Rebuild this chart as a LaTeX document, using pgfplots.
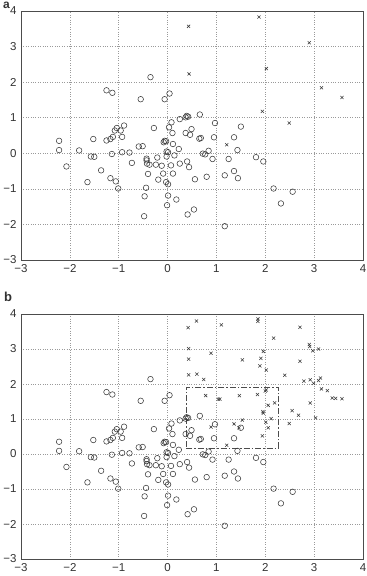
\documentclass[border=0pt]{standalone}
\usepackage{fontspec}
\setmainfont{Liberation Sans}
\usepackage{pgfplots}
\usepackage{pgfplotstable}
\pgfplotsset{compat=1.18}

% class 1 samples (drawn as circles in both panels)
\pgfplotstableread{
x y
-1.25 1.77
-1.13 1.70
-0.35 2.14
-0.55 1.52
-0.06 1.52
0.04 1.68
0.66 1.09
0.25 0.96
0.37 1.01
0.39 1.05
0.42 1.03
0.08 0.87
0.03 0.73
0.10 0.57
0.97 0.85
1.50 0.75
1.36 0.45
0.95 0.45
0.65 0.41
0.68 0.43
0.49 0.68
0.46 0.52
0.37 0.57
-0.28 0.71
-0.06 0.35
-0.08 0.31
-0.03 0.34
0.11 0.26
0.23 0.12
-0.02 0.05
0.01 0.03
0.72 -0.01
0.77 -0.03
0.84 0.07
0.92 -0.16
1.43 0.09
1.25 -0.16
1.81 -0.11
1.96 -0.23
-0.89 0.78
-1.04 0.71
-1.08 0.64
-0.96 0.64
-1.17 0.40
-1.25 0.36
-1.12 0.46
-0.93 0.46
-1.52 0.40
-2.22 0.35
-2.22 0.09
-1.81 0.08
-1.14 -0.02
-0.93 0.03
-0.78 0.02
-0.59 0.19
-0.51 0.20
-2.07 -0.37
-1.57 -0.09
-1.50 -0.10
-1.36 -0.48
-0.73 -0.27
-0.43 -0.15
-0.43 -0.20
-0.42 -0.29
-0.37 -0.32
-0.21 -0.12
-0.24 -0.32
-0.12 -0.35
-0.02 -0.09
0.14 -0.06
0.07 -0.34
-0.09 -0.57
-0.40 -0.58
-0.19 -0.74
0.11 -0.57
0.25 -0.29
0.40 -0.23
0.44 -0.39
0.56 -0.73
0.80 -0.66
1.17 -0.62
1.36 -0.50
1.44 -0.70
-1.17 -0.70
-1.06 -0.79
-1.64 -0.81
-0.03 -0.81
0.01 -0.87
-1.01 -0.99
-0.44 -0.97
-0.47 -1.21
0.01 -1.19
0.18 -1.30
-0.01 -1.46
-0.48 -1.77
0.41 -1.72
0.54 -1.58
1.17 -2.05
2.17 -0.99
2.56 -1.08
2.32 -1.41
}\classone

% class 2 samples, first data set
\pgfplotstableread{
x y
0.43 3.57
0.44 2.23
1.87 3.83
2.02 2.38
2.90 3.11
3.15 1.84
3.57 1.57
1.94 1.18
2.49 0.85
1.21 0.24
}\classtwoA

% class 2 samples, enlarged data set
\pgfplotstableread{
x y
0.42 3.61
0.59 3.80
1.10 3.69
1.85 3.86
1.85 3.79
2.71 3.62
2.17 3.31
0.43 3.01
0.89 2.88
0.43 2.71
1.53 2.69
1.91 2.73
1.89 2.52
1.96 2.93
2.02 2.40
2.40 2.25
2.71 2.65
2.90 3.13
2.91 3.07
2.97 2.95
3.09 3.00
0.43 2.26
0.60 2.28
0.74 2.13
2.79 2.08
2.92 2.12
2.99 2.02
3.09 2.10
3.13 2.17
3.15 1.86
3.27 1.81
3.37 1.60
3.44 1.59
3.57 1.58
0.78 1.67
1.04 1.57
1.07 1.57
1.47 1.67
1.84 1.70
2.00 1.80
2.02 1.83
2.06 1.39
2.19 1.46
1.95 1.21
1.96 1.17
2.01 0.91
2.12 1.01
2.06 0.75
1.94 0.52
1.36 0.86
1.53 0.97
1.46 0.75
0.89 0.77
1.21 0.25
2.49 0.87
2.55 1.24
2.68 1.11
2.92 1.46
3.03 1.03
}\classtwoB

\definecolor{markgray}{HTML}{3A3A3A}
\definecolor{gridgray}{HTML}{9A9A9A}

\pgfplotsset{
  panel/.style={
    scale only axis,
    width=342pt,
    xmin=-3, xmax=4, ymin=-3, ymax=4,
    xtick={-3,-2,-1,0,1,2,3,4},
    ytick={-3,-2,-1,0,1,2,3,4},
    xticklabels={−3,−2,−1,0,1,2,3,4},
    yticklabels={−3,−2,−1,0,1,2,3,4},
    grid=major,
    major grid style={dotted, gridgray, line width=0.5pt},
    axis line style={black!70, line width=0.5pt},
    tick style={draw=none},
    tick label style={font=\fontsize{11.5}{13}\selectfont, text=black!80},
    xticklabel style={yshift=-1pt},
    yticklabel style={xshift=-1pt},
    clip=false,
  },
  circ/.style={only marks, mark=o, mark size=2.8pt,
    mark options={draw=markgray, line width=0.55pt}},
  crs/.style={only marks, mark=x, mark size=2.2pt,
    mark options={draw=markgray, line width=0.55pt}},
}

\begin{document}
\begin{tikzpicture}
\path[use as bounding box] (0,0) rectangle (367pt,576pt);

% panel a
\begin{axis}[panel, height=249pt, at={(21pt,316pt)}, anchor=south west]
  \addplot[circ] table {\classone};
  \addplot[crs] table {\classtwoA};
\end{axis}
\node[anchor=base west, inner sep=0pt, font=\fontsize{12}{14}\selectfont\bfseries, text=black!80]
  at (3pt,567pt) {a};

% panel b
\begin{axis}[panel, height=245pt, at={(21pt,17pt)}, anchor=south west]
  \addplot[circ] table {\classone};
  \addplot[crs] table {\classtwoB};
  \addplot[black!70, line width=0.6pt, dash pattern=on 6pt off 2pt on 1.5pt off 2pt]
    coordinates {(0.38,0.17) (2.27,0.17) (2.27,1.90) (0.38,1.90) (0.38,0.17)};
\end{axis}
\node[anchor=base west, inner sep=0pt, font=\fontsize{13}{15}\selectfont\bfseries, text=black!80]
  at (4pt,274pt) {b};
\end{tikzpicture}
\end{document}
